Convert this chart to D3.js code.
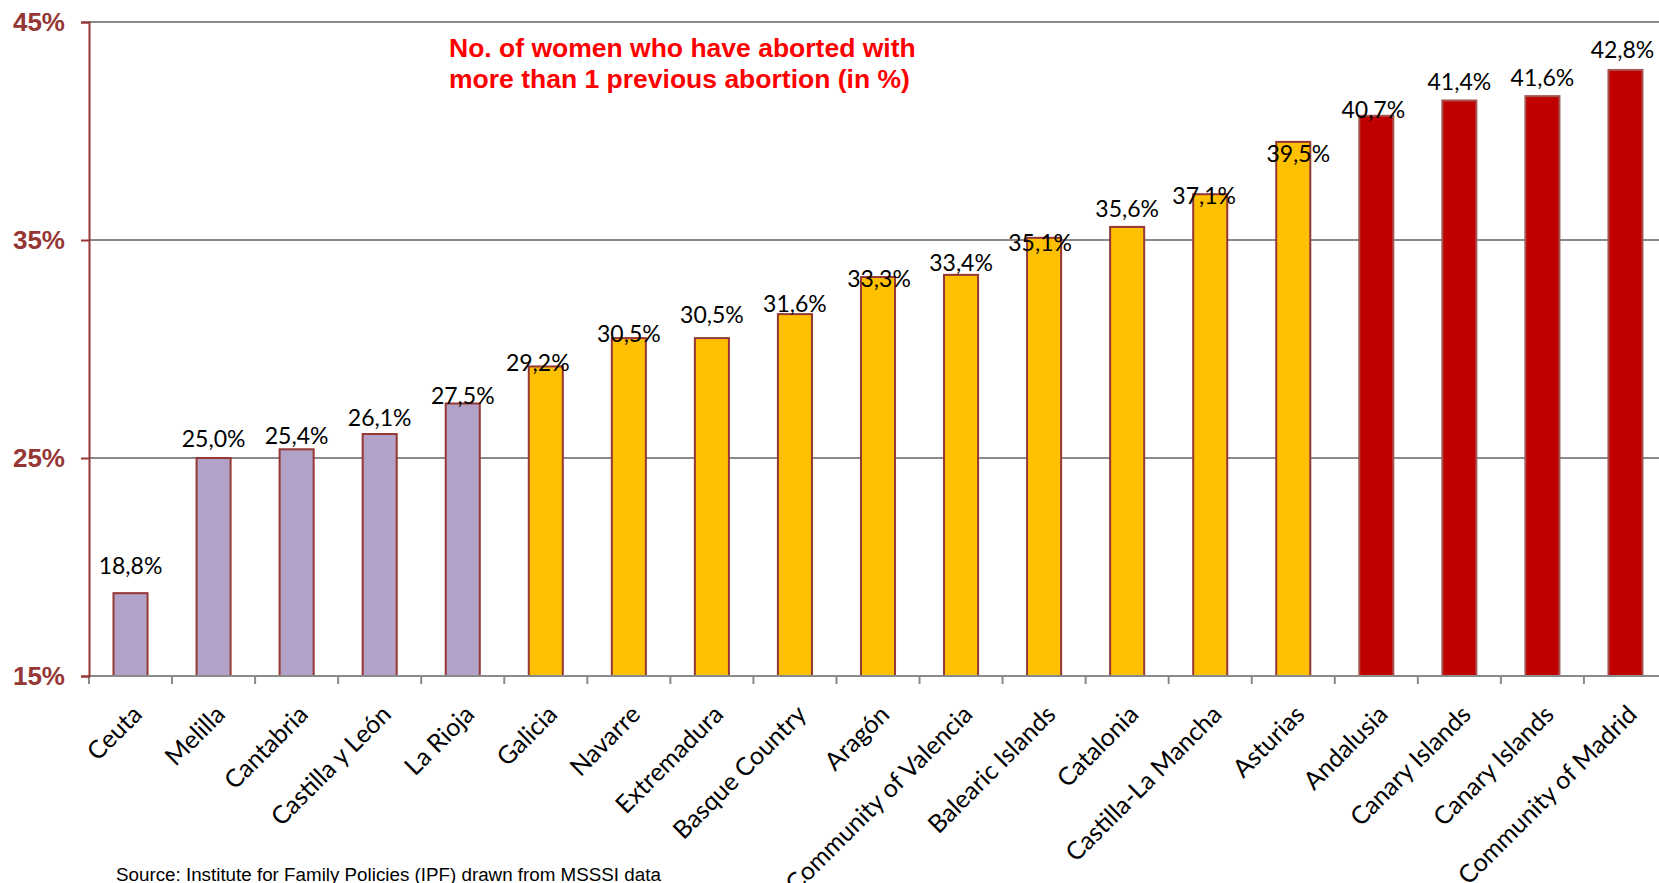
<!DOCTYPE html>
<html>
<head>
<meta charset="utf-8">
<script src="https://cdn.jsdelivr.net/npm/d3@7"></script>
<style>
  body { margin: 0; background: #fff; }
  svg { display: block; }
</style>
</head>
<body>
<script>
// regions, sorted by share of women with more than 1 previous abortion
const regions = ["Ceuta", "Melilla", "Cantabria", "Castilla y León", "La Rioja",
  "Galicia", "Navarre", "Extremadura", "Basque Country", "Aragón",
  "Community of Valencia", "Balearic Islands", "Catalonia", "Castilla-La Mancha",
  "Asturias", "Andalusia", "Canary Islands", "Canary Islands", "Community of Madrid"];
const values = [18.8, 25.0, 25.4, 26.1, 27.5, 29.2, 30.5, 30.5, 31.6, 33.3,
  33.4, 35.1, 35.6, 37.1, 39.5, 40.7, 41.4, 41.6, 42.8];
// colour group of each bar
const tiers = ["low", "low", "low", "low", "low",
  "mid", "mid", "mid", "mid", "mid", "mid", "mid", "mid", "mid", "mid",
  "high", "high", "high", "high"];
const yTicks = [15, 25, 35, 45];
const title = ["No. of women who have aborted with", "more than 1 previous abortion (in %)"];
const source = "Source: Institute for Family Policies (IPF) drawn from MSSSI data";

const W = 1659, H = 883;
const mLeft = 89, mRight = 1667, mTop = 22, mBottom = 676;

const fill = { low: "#b2a2c7", mid: "#ffc000", high: "#c00000" };
const edge = { low: "#953735", mid: "#953735", high: "#a65452" };
const darkRed = "#953735";

// data labels in the original were dragged around by hand
const labelLift = [19, 11, 5, 8, 0, -5, -4, 15, 2, -10, 4, -13, 10, -10, -20, -2, 10, 10, 12];
const labelShift = [0, 0, 0, 0, 0, -8, 0, 0, 0, 1, 0, -4, 0, -6, 5, -3, 0, 0, -3];

const svg = d3.select("body").append("svg")
  .attr("width", W)
  .attr("height", H);

const x = d3.scaleBand()
  .domain(d3.range(regions.length))
  .range([mLeft, mRight])
  .paddingInner(0.59)
  .paddingOuter(0.295);

const y = d3.scaleLinear().domain([15, 45]).range([mBottom, mTop]);

// gridlines
svg.append("g")
  .selectAll("line")
  .data(yTicks.slice(1))
  .join("line")
  .attr("x1", mLeft)
  .attr("x2", mRight)
  .attr("y1", d => y(d))
  .attr("y2", d => y(d))
  .attr("stroke", "#8a8a8a")
  .attr("stroke-width", 2);

// bars
svg.append("g")
  .selectAll("rect")
  .data(values)
  .join("rect")
  .attr("x", (d, i) => x(i))
  .attr("width", x.bandwidth())
  .attr("y", d => y(d))
  .attr("height", d => y(15) - y(d))
  .attr("fill", (d, i) => fill[tiers[i]])
  .attr("stroke", (d, i) => edge[tiers[i]])
  .attr("stroke-width", 2);

// x axis: gray line, ticks between categories
const xAxis = svg.append("g").attr("transform", `translate(0, ${mBottom})`);
xAxis.append("line")
  .attr("x1", mLeft).attr("x2", mRight)
  .attr("stroke", "#8a8a8a").attr("stroke-width", 2);
xAxis.selectAll(".sep")
  .data(d3.range(regions.length + 1))
  .join("line")
  .attr("class", "sep")
  .attr("x1", i => mLeft + i * x.step())
  .attr("x2", i => mLeft + i * x.step())
  .attr("y1", 0)
  .attr("y2", 8)
  .attr("stroke", "#8a8a8a")
  .attr("stroke-width", 2);

xAxis.selectAll(".cat")
  .data(regions)
  .join("text")
  .attr("class", "cat")
  .attr("text-anchor", "end")
  .attr("transform", (d, i) =>
    `translate(${x(i) + x.bandwidth() / 2 + 13}, 40) rotate(-45)`)
  .style("font-family", "Lato, 'Open Sans', sans-serif")
  .style("font-size", "25px")
  .attr("fill", "#000")
  .text(d => d);

// y axis
const yAxis = svg.append("g")
  .attr("transform", `translate(${mLeft}, 0)`)
  .call(d3.axisLeft(y).tickValues(yTicks).tickSize(8).tickPadding(16)
    .tickFormat(d => d + "%"));
yAxis.select(".domain").attr("stroke", darkRed).attr("stroke-width", 2);
yAxis.selectAll(".tick line").attr("stroke", darkRed).attr("stroke-width", 2);
yAxis.selectAll(".tick text")
  .attr("fill", darkRed)
  .style("font-family", "'Liberation Sans', Arial, sans-serif")
  .style("font-size", "26px")
  .style("font-weight", "bold");

// value labels
svg.append("g")
  .selectAll("text")
  .data(values)
  .join("text")
  .attr("x", (d, i) => x(i) + x.bandwidth() / 2 + labelShift[i])
  .attr("y", (d, i) => y(d) - labelLift[i])
  .attr("text-anchor", "middle")
  .style("font-family", "Lato, 'Open Sans', sans-serif")
  .style("font-size", "23px")
  .attr("fill", "#000")
  .text(d => d.toFixed(1).replace(".", ",") + "%");

// title
svg.append("g")
  .selectAll("text")
  .data(title)
  .join("text")
  .attr("x", 449)
  .attr("y", (d, i) => 57 + i * 31)
  .attr("fill", "#ff0000")
  .style("font-family", "'Liberation Sans', Arial, sans-serif")
  .style("font-size", "26.5px")
  .style("font-weight", "bold")
  .text(d => d);

svg.append("text")
  .attr("x", 116)
  .attr("y", 881)
  .attr("fill", "#000")
  .style("font-family", "'Liberation Sans', Arial, sans-serif")
  .style("font-size", "18.8px")
  .text(source);
</script>
</body>
</html>
